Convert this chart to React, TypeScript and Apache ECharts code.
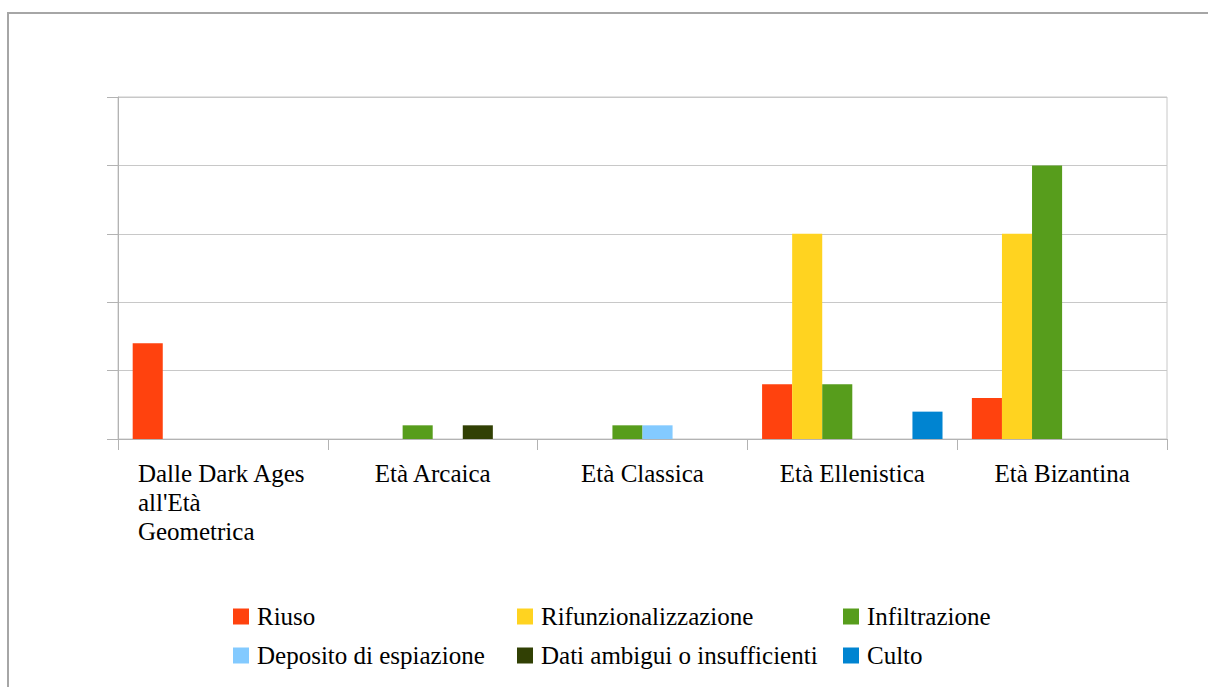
import React, { useEffect, useRef } from "react";
import * as echarts from "echarts";

const categories = [
  "Dalle Dark Ages\nall'Età\nGeometrica",
  "Età Arcaica",
  "Età Classica",
  "Età Ellenistica",
  "Età Bizantina",
];

const seriesNames = [
  "Riuso",
  "Rifunzionalizzazione",
  "Infiltrazione",
  "Deposito di espiazione",
  "Dati ambigui o insufficienti",
  "Culto",
];

const riuso = [7, 0, 0, 4, 3];
const rifunzionalizzazione = [0, 0, 0, 15, 15];
const infiltrazione = [0, 1, 1, 4, 20];
const depositoEspiazione = [0, 0, 1, 0, 0];
const datiAmbigui = [0, 1, 0, 0, 0];
const culto = [0, 0, 0, 2, 0];

const seriesValues = [
  riuso,
  rifunzionalizzazione,
  infiltrazione,
  depositoEspiazione,
  datiAmbigui,
  culto,
];

const colors = ["#ff420e", "#ffd320", "#579d1c", "#83caff", "#314004", "#0084d1"];

const FONT = "Liberation Serif";

export default function App() {
  const ref = useRef<HTMLDivElement>(null);

  useEffect(() => {
    document.body.style.margin = "0";
    if (!ref.current) return;
    const chart = echarts.init(ref.current, undefined, { renderer: "svg" });

    const legendPos = [
      { left: 233, top: 604 },
      { left: 517, top: 604 },
      { left: 843, top: 604 },
      { left: 233, top: 643 },
      { left: 517, top: 643 },
      { left: 843, top: 643 },
    ];

    const option: any = {
      animation: false,
      backgroundColor: "#ffffff",
      color: colors,
      textStyle: { fontFamily: FONT },
      graphic: [
        {
          type: "rect",
          shape: { x: 8, y: 13, width: 1260, height: 720 },
          style: { fill: "none", stroke: "#a6a6a6", lineWidth: 2 },
          silent: true,
        },
      ],
      legend: seriesNames.map((n, i) => ({
        data: [n],
        left: legendPos[i].left,
        top: legendPos[i].top,
        padding: 0,
        icon: "rect",
        itemWidth: 16,
        itemHeight: 16,
        selectedMode: false,
        textStyle: {
          fontFamily: FONT,
          fontSize: 25,
          color: "#000",
          padding: [0, 0, 0, 3],
        },
      })),
      grid: {
        left: 118,
        right: 41,
        top: 97,
        bottom: 248,
        show: true,
        borderColor: "#c8c8c8",
        borderWidth: 1,
        containLabel: false,
      },
      xAxis: {
        type: "category",
        data: categories,
        axisLine: { show: true, lineStyle: { color: "#b3b3b3", width: 1 } },
        axisTick: {
          show: true,
          alignWithLabel: false,
          length: 11,
          lineStyle: { color: "#b3b3b3" },
        },
        axisLabel: {
          interval: 0,
          margin: 20,
          color: "#000",
          fontFamily: FONT,
          fontSize: 25,
          lineHeight: 29,
          formatter: (v: string) => {
            if (v.indexOf("\n") >= 0) {
              return v
                .split("\n")
                .map((s) => "{l|" + s + "}")
                .join("\n");
            }
            return v;
          },
          rich: {
            l: {
              width: 170,
              align: "left",
              fontFamily: FONT,
              fontSize: 25,
              lineHeight: 29,
              color: "#000",
            },
          },
        },
      },
      yAxis: {
        type: "value",
        min: 0,
        max: 25,
        interval: 5,
        axisLabel: { show: false },
        axisLine: { show: true, lineStyle: { color: "#b3b3b3", width: 1 } },
        axisTick: { show: true, length: 11, lineStyle: { color: "#b3b3b3" } },
        splitLine: { show: true, lineStyle: { color: "#c8c8c8", width: 1 } },
      },
      series: seriesNames.map((n, i) => ({
        name: n,
        type: "bar",
        data: seriesValues[i],
        barGap: "0%",
        barCategoryGap: "14%",
        itemStyle: { color: colors[i] },
      })),
    };

    chart.setOption(option);
    return () => {
      chart.dispose();
    };
  }, []);

  return <div ref={ref} style={{ width: 1208, height: 687 }} />;
}
